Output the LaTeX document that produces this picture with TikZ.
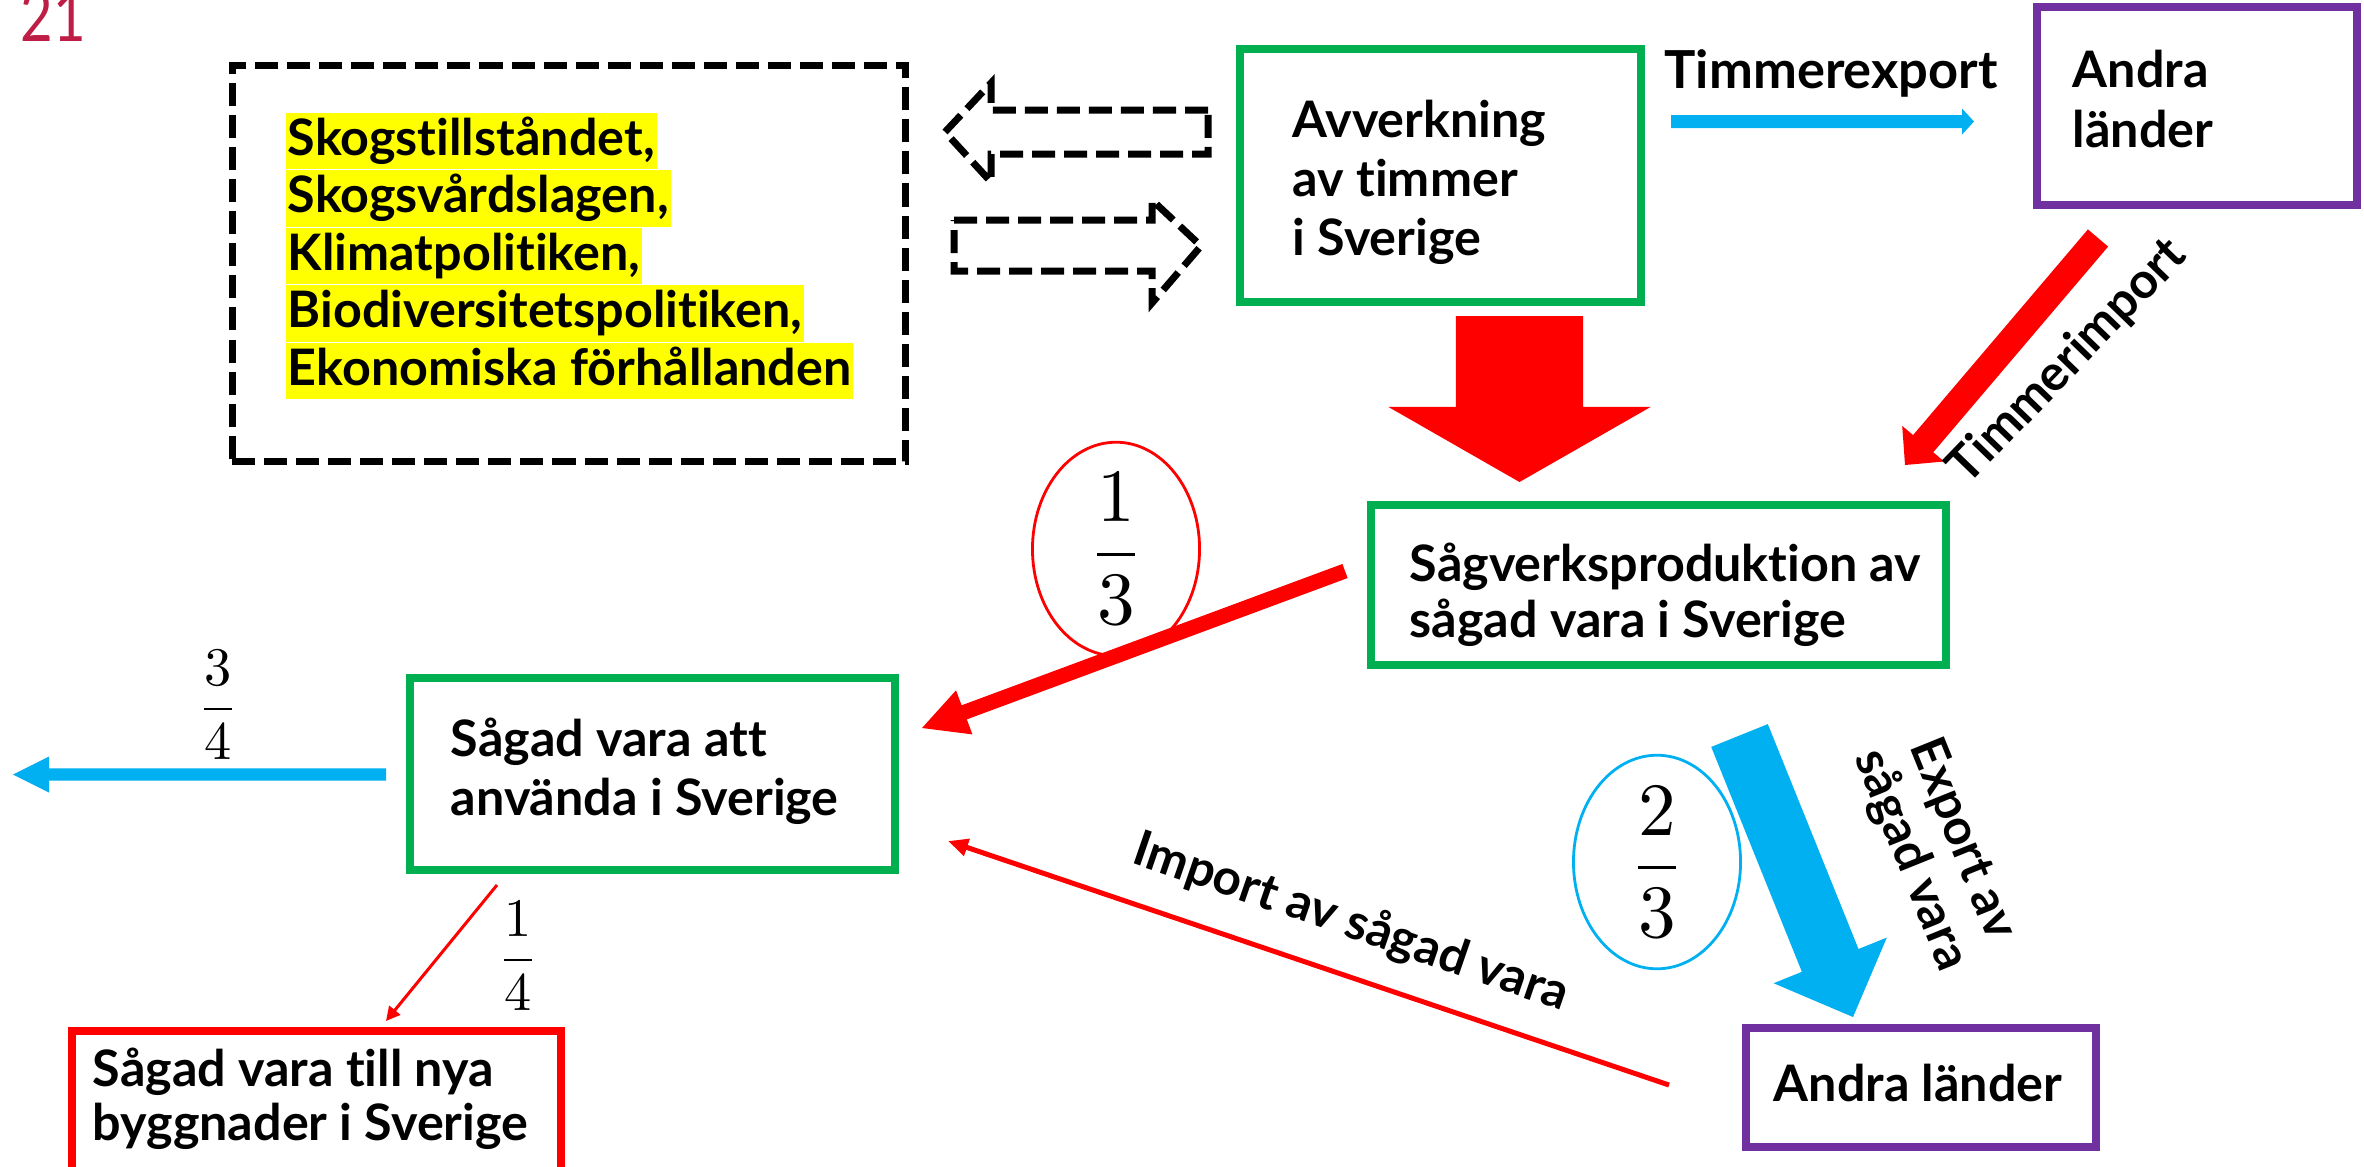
\documentclass[tikz,border=0pt]{standalone}
\usepackage{fontspec}
\usepackage{graphicx}
\usetikzlibrary{calc,shapes.geometric,arrows.meta}
\newfontfamily\lat{Lato}[Ligatures=NoCommon]
\definecolor{pgreen}{RGB}{0,176,80}
\definecolor{ppurp}{RGB}{112,48,160}
\definecolor{pblue}{RGB}{0,176,240}
\definecolor{pred}{RGB}{255,0,0}
\definecolor{crim}{RGB}{190,30,70}
\definecolor{hlyel}{RGB}{255,255,0}
\newcommand\bx[1]{\lat\bfseries\fontsize{14.3pt}{#1}\selectfont}
\newcommand\lb{\lat\bfseries\fontsize{14.1pt}{15.8pt}\selectfont}
% block arrow: #1 colour, #2 tail, #3 tip, #4 shaft half width, #5 head length, #6 head half width
\newcommand\blockarr[6]{%
  \coordinate (baH) at ($(#3)!#5!(#2)$);
  \fill[#1] ($(#2)!#4!90:(#3)$) -- ($(baH)!#4!90:(#3)$) -- ($(baH)!#6!90:(#3)$) -- (#3)
    -- ($(baH)!#6!-90:(#3)$) -- ($(baH)!#4!-90:(#3)$) -- ($(#2)!#4!-90:(#3)$) -- cycle;}
\tikzset{
  box/.style={draw, line width=0.075cm, inner sep=0},
  txt/.style={align=left, inner sep=0},
  hl/.style={font=\bx{16.3pt}, fill=hlyel, inner xsep=0.02cm, inner ysep=0, text height=0.42cm, text depth=0.14cm, anchor=base west},
  dashbox/.style={line width=0.07cm, dash pattern=on 0.23cm off 0.09cm},
  frac/.style={ellipse, line width=0.028cm, inner sep=0, minimum width=1.67cm, minimum height=1.9cm},
}
\begin{document}
\begin{tikzpicture}[x=0.01cm,y=-0.01cm]
\useasboundingbox (0,0) rectangle (2364,1166);
\clip (0,0) rectangle (2364,1166);

% page number
\node[anchor=base west, inner sep=0, text=crim, font=\lat\fontsize{20pt}{21pt}\selectfont] (pg) at (20,41) {\scalebox{0.8}[1]{21}};

% factors box
\node[draw, dashbox, minimum width=6.73cm, minimum height=3.96cm] (fac) at (569,263.5) {};
\node[hl] (f1) at (285,155) {Skogstillståndet,};
\node[hl] (f2) at (285,212.5) {Skogsvårdslagen,};
\node[hl] (f3) at (285,270) {Klimatpolitiken,};
\node[hl] (f4) at (285,327.5) {Biodiversitetspolitiken,};
\node[hl] (f5) at (285,385) {Ekonomiska förhållanden};

% dashed block arrows
\draw[dashbox] (1208,110) -- (991,110) -- (991,83) -- (945,132) -- (991,182) -- (991,154) -- (1208,154) -- cycle;
\draw[dashbox] (954,220) -- (1152,220) -- (1152,200) -- (1201,246) -- (1152,303) -- (1152,271) -- (954,271) -- cycle;

% boxes
\node[box, draw=pgreen, minimum width=4.01cm, minimum height=2.53cm] (avv) at (1440.5,175.5) {};
\node[box, draw=ppurp, minimum width=3.20cm, minimum height=1.98cm] (al1) at (2197,106) {};
\node[box, draw=pgreen, minimum width=5.75cm, minimum height=1.60cm] (sag) at (1658.5,585) {};
\node[box, draw=pgreen, minimum width=4.85cm, minimum height=1.92cm] (anv) at (652.5,774) {};
\node[box, draw=pred, minimum width=4.89cm, minimum height=1.49cm] (nya) at (316.5,1105.5) {};
\node[box, draw=ppurp, minimum width=3.50cm, minimum height=1.19cm] (al2) at (1921,1087.5) {};

% box texts (base anchor = baseline of last line)
\node[txt, anchor=base west, font=\bx{16.64pt}] (avvT) at (1292,255) {Avverkning\\av timmer\\i Sverige};
\node[txt, anchor=base west, font=\bx{16.8pt}] (al1T) at (2072,147) {Andra\\länder};
\node[txt, anchor=base west, font=\bx{15.65pt}] (sagT) at (1409,637) {Sågverksproduktion av\\sågad vara i Sverige};
\node[txt, anchor=base west, font=\bx{16.5pt}] (anvT) at (450,815) {Sågad vara att\\använda i Sverige};
\node[txt, anchor=base west, font=\bx{15.1pt}] (nyaT) at (92,1140) {Sågad vara till nya\\byggnader i Sverige};
\node[txt, anchor=base west, font=\bx{16pt}] (al2T) at (1773,1101) {Andra länder};

% arrow end points
\coordinate (teA) at (1671,121.5); \coordinate (teB) at (1974,121.5);
\coordinate (bigA) at (1519.5,316); \coordinate (bigB) at (1519.5,482);
\coordinate (tiA) at (2098,238);   \coordinate (tiB) at (1905,465);
\coordinate (thA) at (1345,571);   \coordinate (thB) at (922,728);
\coordinate (exA) at (1739.5,735.5); \coordinate (exB) at (1853,1017);
\coordinate (quA) at (386,774.5);  \coordinate (quB) at (13,774.5);
\coordinate (byA) at (497,885);    \coordinate (byB) at (386,1021);
\coordinate (imA) at (1669,1085);  \coordinate (imB) at (948,841);

% thick arrows
\blockarr{pblue}{teA}{teB}{0.065cm}{0.12cm}{0.13cm}
\blockarr{pred}{bigA}{bigB}{0.635cm}{0.75cm}{1.31cm}
\blockarr{pred}{tiA}{tiB}{0.1325cm}{0.28cm}{0.275cm}
\blockarr{pred}{thA}{thB}{0.075cm}{0.45cm}{0.235cm}
\blockarr{pblue}{exA}{exB}{0.305cm}{0.61cm}{0.61cm}
\blockarr{pblue}{quA}{quB}{0.062cm}{0.36cm}{0.18cm}

% thin arrows
\draw[pred, line width=0.03cm, -{Triangle[length=0.14cm,width=0.14cm]}] (byA) -- (byB);
\draw[pred, line width=0.05cm, -{Triangle[length=0.2cm,width=0.17cm]}] (imA) -- (imB);

% arrow labels
\node[inner sep=0, anchor=base west, font=\lat\bfseries\fontsize{14.9pt}{16pt}\selectfont] (teL) at (1664,88) {Timmerexport};
\node[inner sep=0, font=\lb, rotate=46] (tiL) at (2068,362) {Timmerimport};
\node[inner sep=0, font=\lb, align=center, rotate=-68] (exL) at (1936,850) {Export av\\sågad vara};
\node[inner sep=0, font=\lb, rotate=-19] (imL) at (1351,923) {Import av sågad vara};

% fractions
\node[frac, draw=pred] (e13) at (1116,549) {\scalebox{2.14}{$\displaystyle\frac{1}{3}$}};
\node[frac, draw=pblue] (e23) at (1657,862) {\scalebox{2.14}{$\displaystyle\frac{2}{3}$}};
\node[inner sep=0] (q34) at (218,705) {\scalebox{1.545}{$\displaystyle\frac{3}{4}$}};
\node[inner sep=0] (q14) at (518,956) {\scalebox{1.545}{$\displaystyle\frac{1}{4}$}};
\end{tikzpicture}
\end{document}
